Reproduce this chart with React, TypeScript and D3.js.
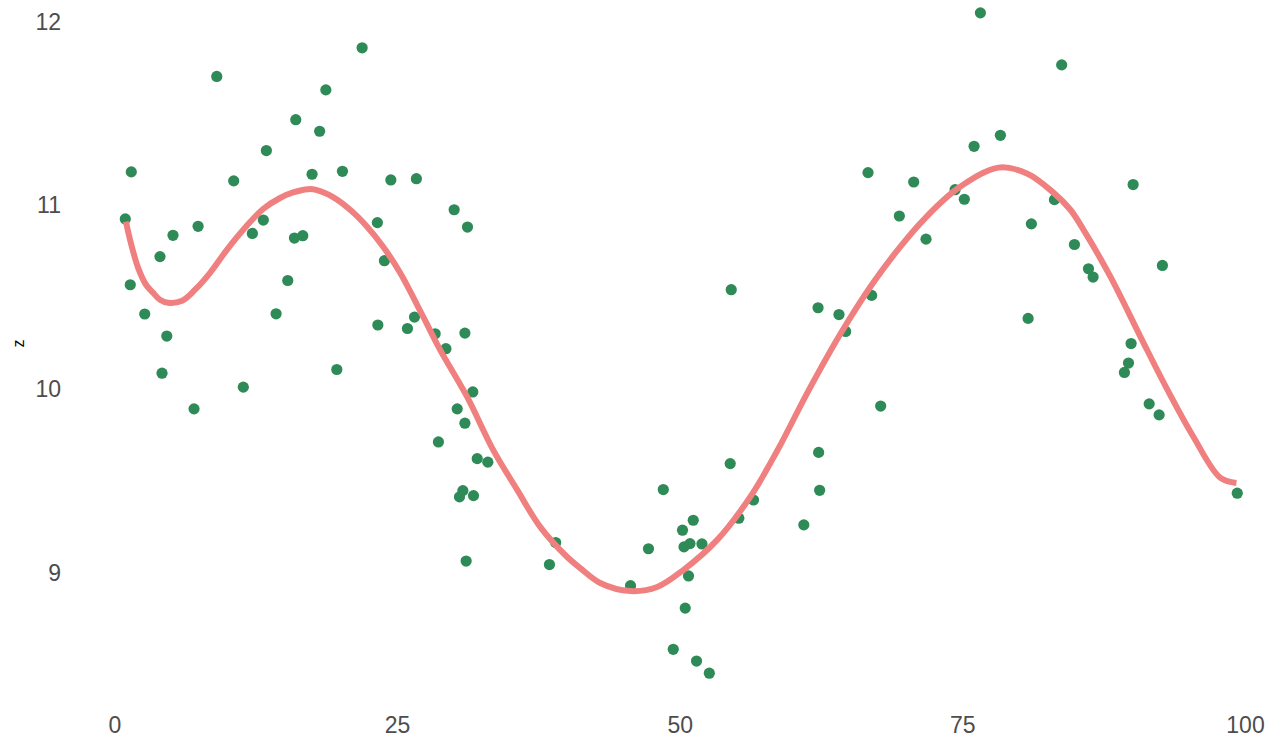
import React from "react";
import * as d3 from "d3";

// Scatter data (x, z)
const pointX = [
  0.91, 1.44, 1.35, 2.63, 3.98, 4.58, 4.16, 5.13, 6.99, 7.35,
  9.0, 10.5, 11.35, 12.15, 13.12, 13.39, 14.25, 15.28, 15.99, 15.87,
  16.61, 17.43, 18.1, 18.65, 19.62, 20.12, 21.86, 23.21, 23.25, 23.83,
  24.4, 25.87, 26.49, 26.66, 28.32, 29.27, 28.61, 30.0, 30.27, 30.95,
  30.95, 31.18, 31.65, 32.04, 32.98, 30.77, 30.47, 31.71, 31.06, 38.43,
  38.98, 45.6, 47.19, 48.5, 49.38, 50.2, 50.44, 50.33, 50.86, 50.73,
  51.15, 51.44, 51.92, 52.57, 54.42, 54.51, 55.18, 56.48, 60.93, 62.19,
  62.24, 62.33, 64.04, 64.63, 66.61, 66.93, 67.73, 69.38, 70.65, 71.74,
  74.31, 75.13, 75.99, 76.55, 78.32, 80.77, 81.06, 83.1, 83.74, 84.87,
  86.11, 86.52, 89.29, 89.65, 89.88, 90.06, 91.48, 92.36, 92.65, 99.27,
];
const pointZ = [
  10.926, 11.182, 10.568, 10.409, 10.721, 10.289, 10.087, 10.837, 9.893, 10.886,
  11.701, 11.133, 10.011, 10.847, 10.92, 11.298, 10.41, 10.591, 11.466, 10.822,
  10.835, 11.169, 11.403, 11.628, 10.107, 11.185, 11.857, 10.906, 10.349, 10.699,
  11.138, 10.33, 10.392, 11.145, 10.301, 10.22, 9.713, 10.976, 9.893, 10.305,
  9.815, 10.882, 9.985, 9.622, 9.603, 9.448, 9.414, 9.421, 9.065, 9.046,
  9.166, 8.931, 9.132, 9.454, 8.585, 9.233, 8.809, 9.142, 9.16, 8.984,
  9.287, 8.521, 9.158, 8.455, 9.595, 10.541, 9.298, 9.397, 9.262, 10.443,
  9.656, 9.45, 10.406, 10.314, 11.178, 10.51, 9.908, 10.942, 11.127, 10.816,
  11.085, 11.033, 11.321, 12.047, 11.381, 10.385, 10.899, 11.031, 11.764, 10.787,
  10.655, 10.61, 10.091, 10.142, 10.248, 11.113, 9.92, 9.86, 10.673, 9.434,
];

// Smoothed trend
const smoothX = [
  0.97, 1.33, 2.04, 2.74, 3.36, 3.98, 4.69, 5.93, 7.08, 8.41,
  9.91, 11.5, 13.1, 14.6, 15.75, 17.08, 17.79, 19.29, 20.8, 22.3,
  23.72, 25.22, 27.26, 28.76, 31.15, 33.45, 35.58, 37.61, 40.0, 41.15,
  42.92, 45.58, 47.96, 50.27, 53.27, 56.19, 58.58, 61.24, 64.16, 67.08,
  69.4, 71.5, 74.51, 78.14, 80.71, 83.01, 84.51, 85.66, 88.05, 90.71,
  93.1, 95.4, 97.79, 99.2,
];
const smoothZ = [
  10.911, 10.813, 10.661, 10.568, 10.525, 10.486, 10.47, 10.481, 10.541, 10.633,
  10.759, 10.878, 10.98, 11.04, 11.07, 11.088, 11.084, 11.045, 10.976, 10.884,
  10.775, 10.633, 10.394, 10.214, 9.958, 9.67, 9.452, 9.251, 9.087, 9.027,
  8.946, 8.902, 8.924, 9.016, 9.18, 9.414, 9.665, 9.98, 10.3, 10.58,
  10.77, 10.92, 11.09, 11.205, 11.172, 11.069, 10.976, 10.868, 10.612, 10.285,
  9.996, 9.74, 9.517, 9.49,
];

const xTicks = [0, 25, 50, 75, 100];
const yTicks = [9, 10, 11, 12];
const yTitle = "z";

const W = 1269;
const H = 737;

export default function App() {
  const x = d3.scaleLinear().domain([0, 100]).range([115, 1245.5]);
  const y = d3.scaleLinear().domain([9, 12]).range([573, 21.5]);

  const line = d3
    .line<number>()
    .x((_, i) => x(smoothX[i]))
    .y((_, i) => y(smoothZ[i]))
    .curve(d3.curveCatmullRom.alpha(0.5));

  const font = "'Liberation Sans', Arial, Helvetica, sans-serif";

  return (
    <svg
      width={W}
      height={H}
      style={{ position: "absolute", left: 0, top: 0, background: "#fff" }}
      fontFamily={font}
    >
      <rect x={0} y={0} width={W} height={H} fill="#ffffff" />
      {pointX.map((v, i) => (
        <circle key={i} cx={x(v)} cy={y(pointZ[i])} r={5.6} fill="#2E8B57" />
      ))}
      <path
        d={line(smoothX) || ""}
        fill="none"
        stroke="#F08080"
        strokeWidth={6}
        strokeLinejoin="round"
        strokeLinecap="butt"
      />
      {yTicks.map((t) => (
        <text
          key={t}
          x={61}
          y={y(t)}
          textAnchor="end"
          dominantBaseline="central"
          fontSize={23}
          fill="#4D4D4D"
        >
          {t}
        </text>
      ))}
      {xTicks.map((t) => (
        <text
          key={t}
          x={x(t)}
          y={725}
          textAnchor="middle"
          dominantBaseline="central"
          fontSize={23}
          fill="#4D4D4D"
        >
          {t}
        </text>
      ))}
      <text
        x={0}
        y={0}
        transform={`translate(18.5,343.5) rotate(-90)`}
        textAnchor="middle"
        dominantBaseline="central"
        fontSize={16}
        fill="#000000"
      >
        {yTitle}
      </text>
    </svg>
  );
}
